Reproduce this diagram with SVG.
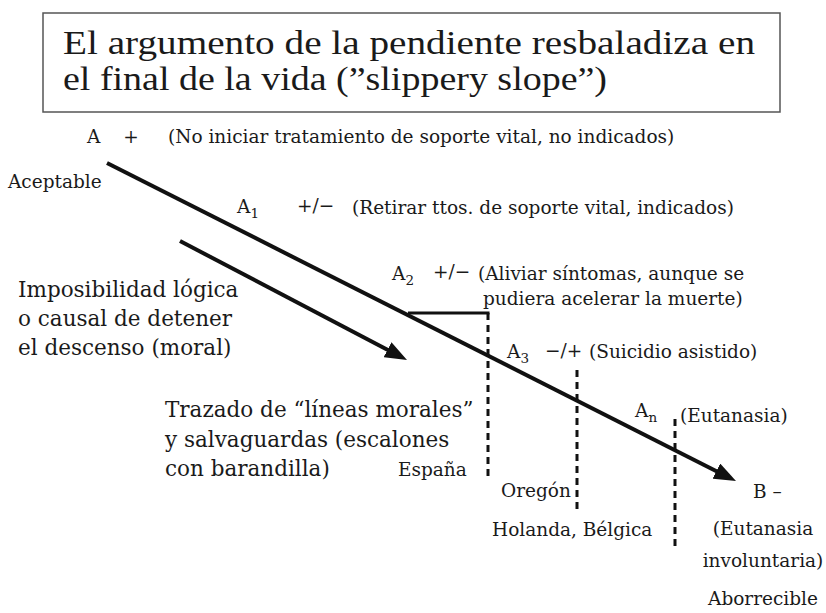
<svg xmlns="http://www.w3.org/2000/svg" width="826" height="613" viewBox="0 0 826 613">
<defs>
<style>
text{font-family:"DejaVu Serif","Liberation Serif",serif;fill:#1a1a1a;}
.s{font-size:18.5px;}
.m{font-size:21.5px;}
.t{font-family:"Liberation Serif",serif;font-size:34px;}
.sub{font-size:13.5px;}
.ln{stroke:#111;stroke-width:4;fill:none;}
.bar{stroke:#111;stroke-width:3;fill:none;}
.dash{stroke:#111;stroke-width:3;stroke-dasharray:7 5;fill:none;}
</style>
<marker id="ah" viewBox="0 0 22 17" refX="9" refY="8.5" markerWidth="22" markerHeight="17" markerUnits="userSpaceOnUse" orient="auto">
<path d="M0,0 L22,8.5 L0,17 z" fill="#111"/>
</marker>
</defs>
<rect width="826" height="613" fill="#fff"/>
<g id="title">
<rect x="43" y="13" width="737" height="99" fill="none" stroke="#555" stroke-width="1.5"/>
<text class="t" x="63" y="54" textLength="692" lengthAdjust="spacingAndGlyphs">El argumento de la pendiente resbaladiza en</text>
<text class="t" x="63" y="90" textLength="544" lengthAdjust="spacingAndGlyphs">el final de la vida (”slippery slope”)</text>
</g>
<g id="connectors">
<line class="ln" x1="107" y1="163" x2="724.4" y2="475.2" marker-end="url(#ah)"/>
<line class="ln" x1="180" y1="241" x2="395.5" y2="353.9" marker-end="url(#ah)"/>
<line class="bar" x1="408" y1="313" x2="489.5" y2="313"/>
<line class="dash" x1="488" y1="313" x2="488" y2="480"/>
<line class="dash" x1="577" y1="370" x2="577" y2="512"/>
<line class="dash" x1="675" y1="419" x2="675" y2="546"/>
</g>
<g id="node-A">
<text class="s" x="87" y="143">A</text>
<text class="s" x="131" y="143" text-anchor="middle">+</text>
<text class="s" x="168" y="143">(No iniciar tratamiento de soporte vital, no indicados)</text>
</g>
<g id="node-aceptable"><text class="s" x="8" y="188">Aceptable</text></g>
<g id="node-A1">
<text class="s" x="237" y="213">A<tspan class="sub" dy="5">1</tspan></text>
<text class="s" x="297" y="212">+/−</text>
<text class="s" x="352" y="214">(Retirar ttos. de soporte vital, indicados)</text>
</g>
<g id="node-A2">
<text class="s" x="392" y="280">A<tspan class="sub" dy="5">2</tspan></text>
<text class="s" x="433" y="278">+/−</text>
<text class="s" x="478" y="280">(Aliviar síntomas, aunque se</text>
<text class="s" x="483" y="305">pudiera acelerar la muerte)</text>
</g>
<g id="node-A3">
<text class="s" x="507" y="358">A<tspan class="sub" dy="5">3</tspan></text>
<text class="s" x="545" y="357">−/+</text>
<text class="s" x="589" y="358">(Suicidio asistido)</text>
</g>
<g id="node-An">
<text class="s" x="635" y="417">A<tspan class="sub" dy="5">n</tspan></text>
<text class="s" x="680" y="422">(Eutanasia)</text>
</g>
<g id="node-B">
<text class="s" x="753" y="498">B –</text>
<text class="s" x="763" y="535" text-anchor="middle">(Eutanasia</text>
<text class="s" x="763" y="567" text-anchor="middle">involuntaria)</text>
<text class="s" x="763" y="605" text-anchor="middle">Aborrecible</text>
</g>
<g id="node-imposibilidad">
<text class="m" x="18" y="297">Imposibilidad lógica</text>
<text class="m" x="18" y="326">o causal de detener</text>
<text class="m" x="18" y="355">el descenso (moral)</text>
</g>
<g id="node-trazado">
<text class="m" x="165" y="417">Trazado de “líneas morales”</text>
<text class="m" x="165" y="447">y salvaguardas (escalones</text>
<text class="m" x="165" y="476">con barandilla)</text>
</g>
<g id="node-espana"><text class="s" x="398" y="476">España</text></g>
<g id="node-oregon"><text class="s" x="501" y="497">Oregón</text></g>
<g id="node-holanda"><text class="s" x="492" y="536">Holanda, Bélgica</text></g>
</svg>
